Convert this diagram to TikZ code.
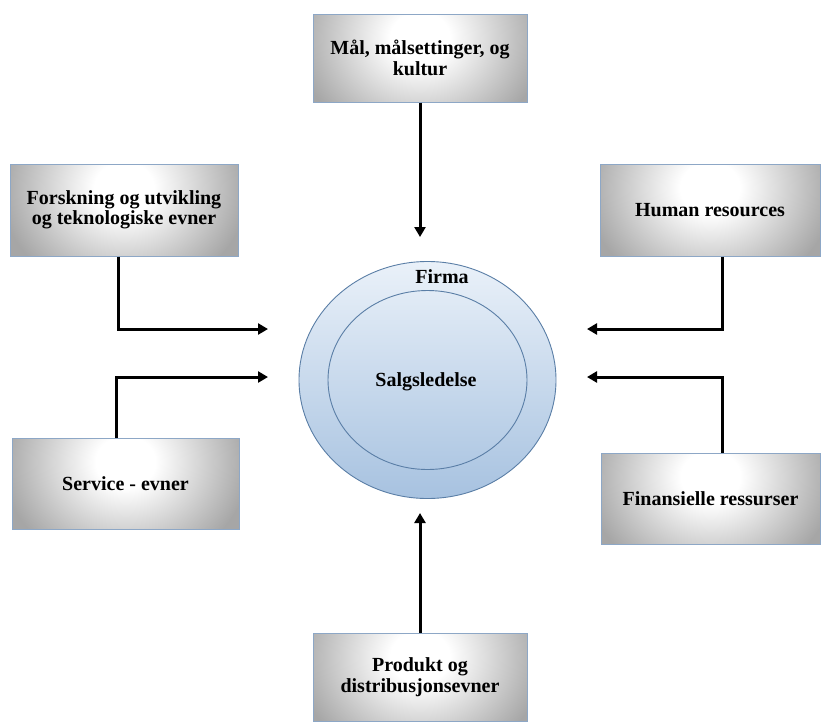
\documentclass[tikz,border=0pt]{standalone}
\usepackage{fontspec}
\setmainfont{Liberation Serif}
\usetikzlibrary{arrows.meta,shapes.geometric}

\definecolor{boxgray}{HTML}{A6A6A6}
\definecolor{boxedge}{HTML}{8DA7C6}
\definecolor{firmtop}{HTML}{EAF1F9}
\definecolor{firmbot}{HTML}{A7C2E0}
\definecolor{firmedge}{HTML}{5A7EA6}

% white glow fading into grey, used inside the factor boxes
% (the shaded path is fitted to the middle 50bp of the shading)
\pgfdeclareradialshading{glow}{\pgfpoint{0bp}{0bp}}{%
  color(0bp)=(white); color(6bp)=(white); color(25bp)=(boxgray); color(50bp)=(boxgray)}

\tikzset{
  factor/.style={draw=boxedge, line width=1pt,
    minimum width=#1, minimum height=90pt, inner sep=0pt, align=center,
    font=\bfseries\fontsize{20}{20.5}\selectfont,
    path picture={
      \fill[boxgray] (path picture bounding box.south west)
                     rectangle (path picture bounding box.north east);
      \shade[shading=glow] ([yshift=-24pt]path picture bounding box.north)
                     ellipse [x radius=124pt, y radius=108pt];
    }},
  factor/.default=216pt,
  firmring/.style={ellipse, draw=firmedge, line width=0.9pt, inner sep=0pt},
  lbl/.style={font=\bfseries\fontsize{20}{20.5}\selectfont},
  arr/.style={line width=3pt, -{Triangle[length=10pt,width=11pt]}},
}

\begin{document}
\begin{tikzpicture}[x=1pt,y=-1pt]
\useasboundingbox (0,0) rectangle (822,721);

% firm with the sales management core
\node[firmring, minimum width=257pt, minimum height=237pt,
      top color=firmtop, bottom color=firmbot] (firm) at (427.5,380) {};
\node[firmring, minimum width=199pt, minimum height=179pt] (core) at (427.5,380) {};
\node[lbl] (firmlbl) at (442,277) {Firma};
\node[lbl] (corelbl) at (426,382) {Salgsledelse};

% surrounding factors
\node[factor=214pt, minimum height=88pt] (goal) at (420,58) {Mål, målsettinger, og\\kultur};
\node[factor=228pt, minimum height=92pt] (rnd) at (124,210) {Forskning og utvikling\\og teknologiske evner};
\node[factor=220pt, minimum height=92pt] (hr) at (710,210) {Human resources};
\node[factor=227pt, minimum height=91pt] (svc) at (125.5,483.5) {Service - evner};
\node[factor=219pt, minimum height=91pt] (fin) at (710.5,498.5) {Finansielle ressurser};
\node[factor=214pt, minimum height=88pt] (prod) at (420,677) {Produkt og\\distribusjonsevner};

% arrow targets around the firm
\coordinate (inTop) at (420,237);
\coordinate (inBot) at (420,513);
\coordinate (inL1) at (268,329);
\coordinate (inL2) at (268,377);
\coordinate (inR1) at (587,329);
\coordinate (inR2) at (587,377);

% connectors
\draw[arr] (goal.south) -- (inTop);
\draw[arr] (prod.north) -- (inBot);
\draw[arr] (rnd.south -| 118,0) |- (inL1);
\draw[arr] (svc.north -| 116,0) |- (inL2);
\draw[arr] (hr.south -| 722,0) |- (inR1);
\draw[arr] (fin.north -| 722,0) |- (inR2);
\end{tikzpicture}
\end{document}
